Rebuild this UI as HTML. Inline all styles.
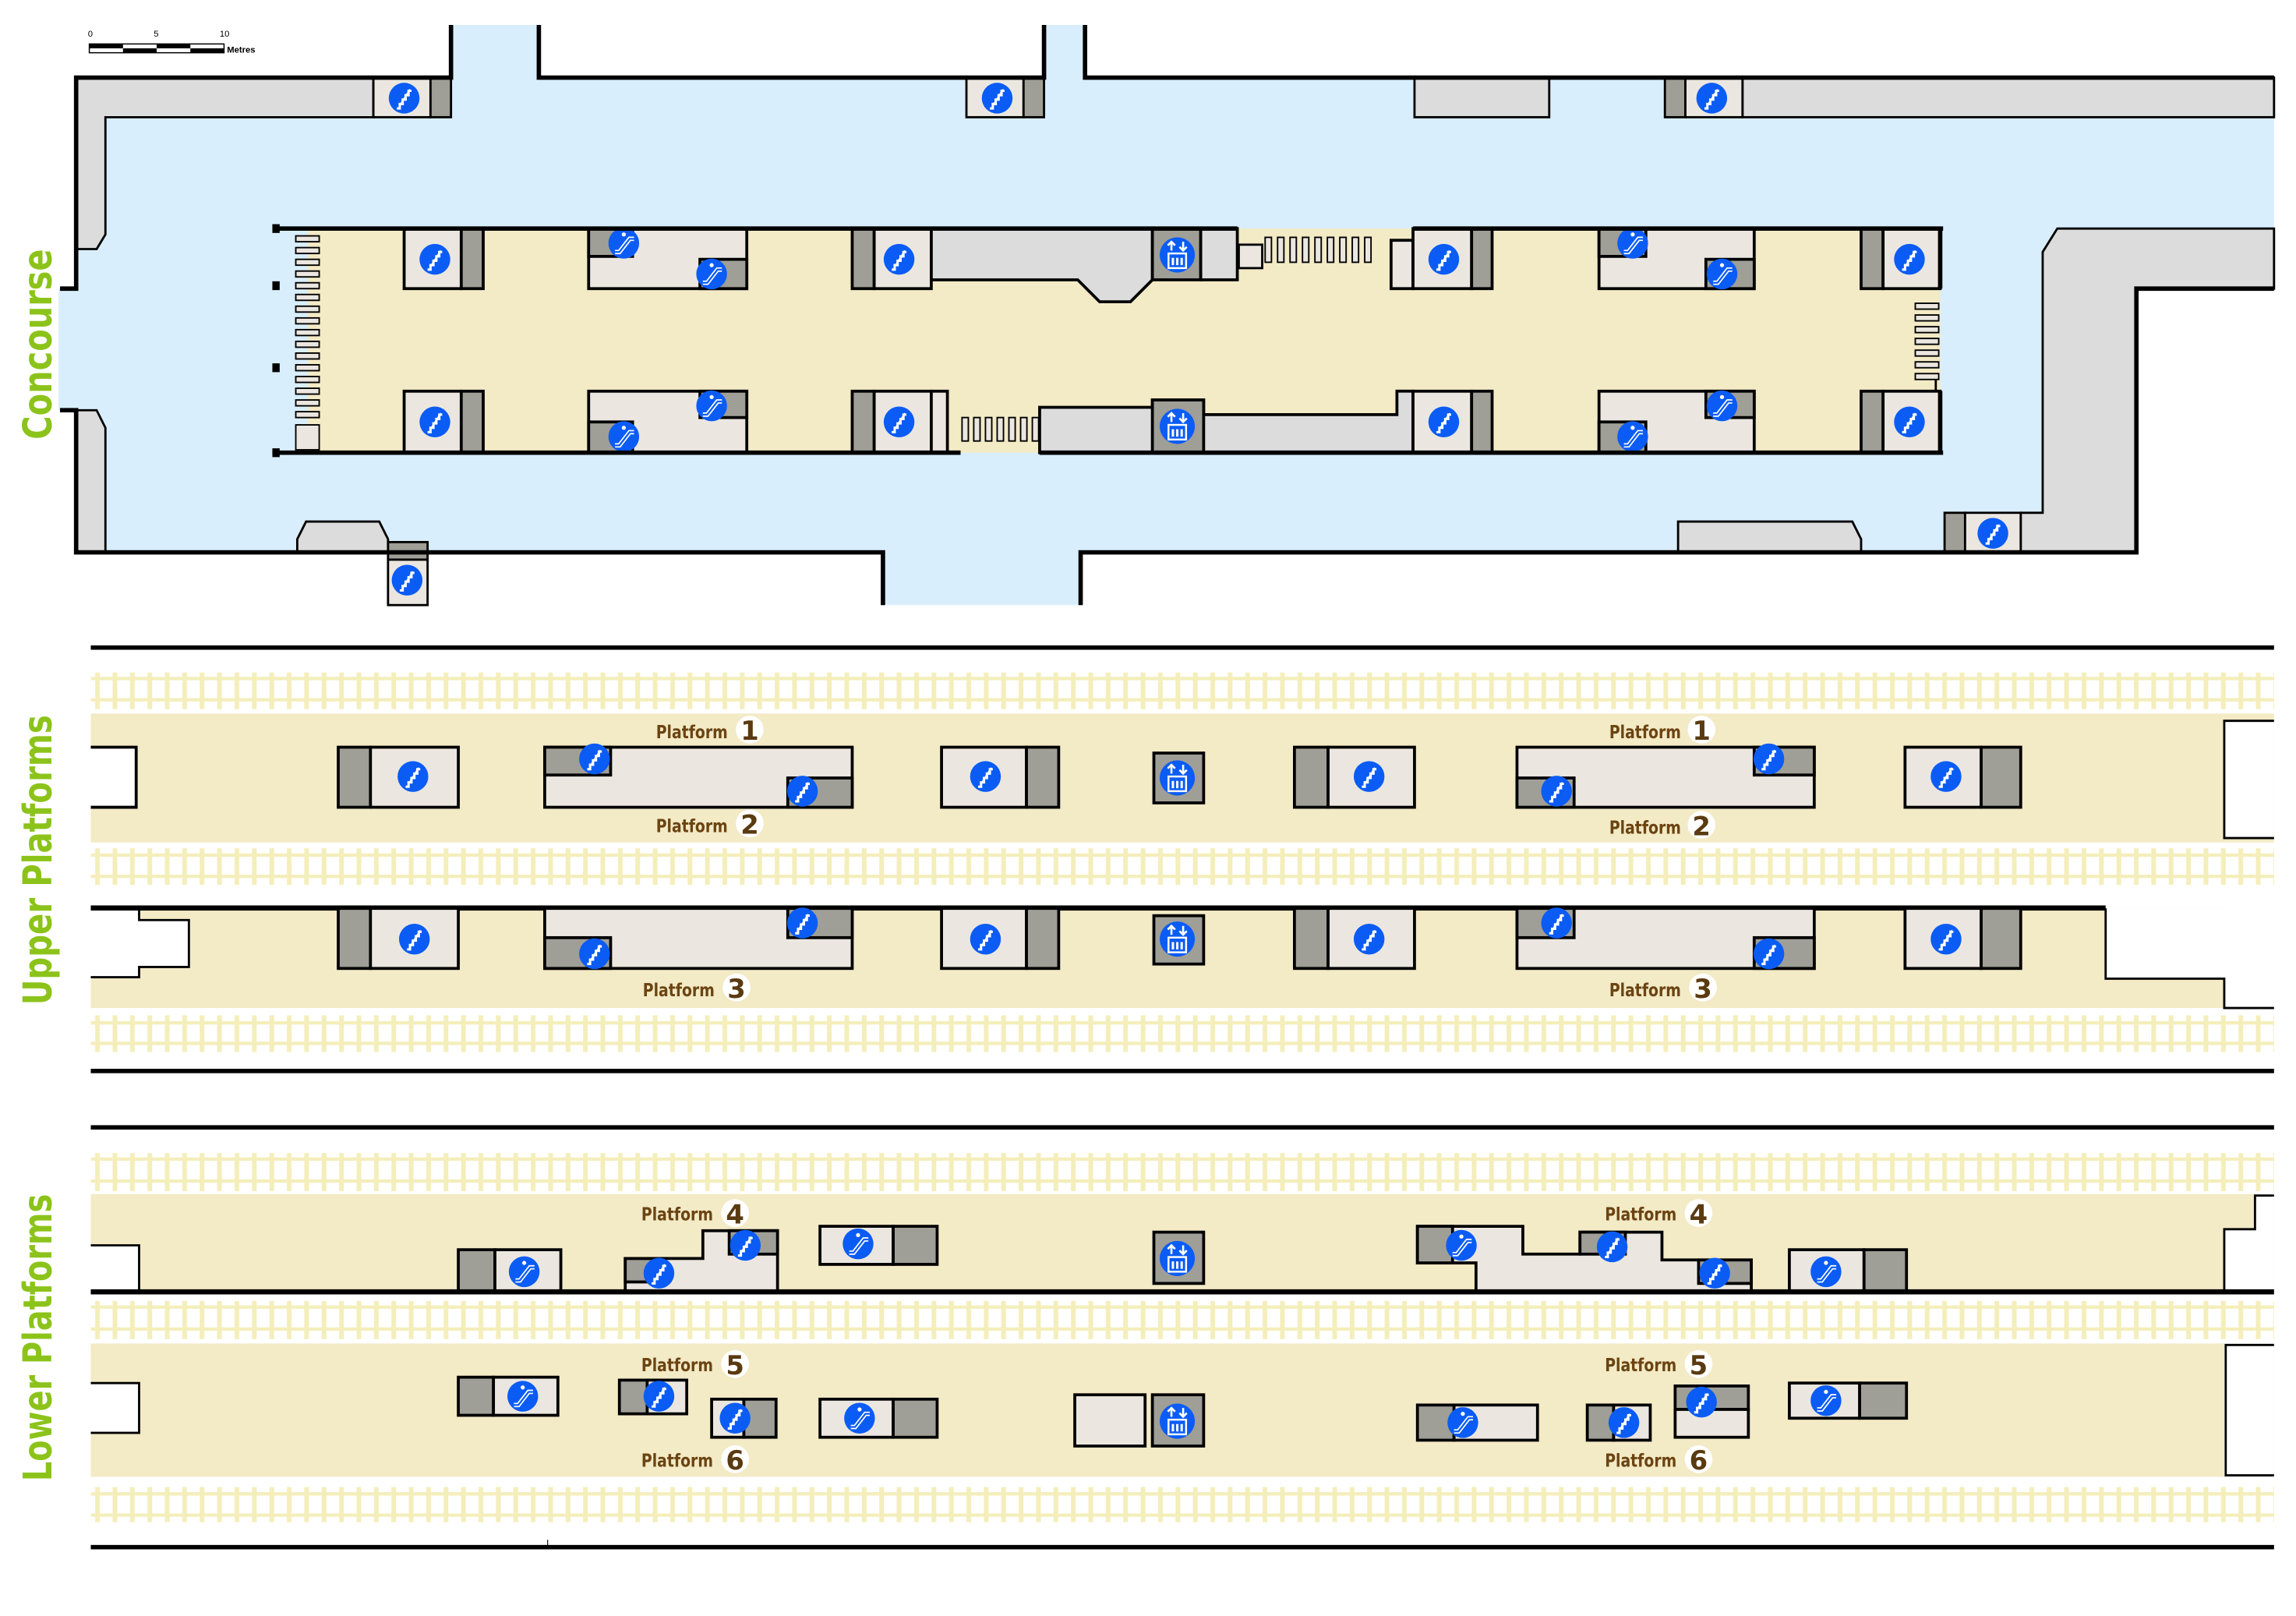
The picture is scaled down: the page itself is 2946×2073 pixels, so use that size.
<!DOCTYPE html>
<html><head><meta charset="utf-8"><style>
html,body{margin:0;padding:0;background:#fff}
svg{display:block}
.pl{font-family:"DejaVu Sans","Liberation Sans",sans-serif;font-weight:bold;font-size:12.5px;fill:#6b4412}
.pn{font-family:"DejaVu Sans","Liberation Sans",sans-serif;font-weight:bold;font-size:18px;fill:#5a3a10}
.side{font-family:"DejaVu Sans","Liberation Sans",sans-serif;font-weight:bold;font-size:27px;fill:#8cc31a}
</style></head><body>
<svg xmlns="http://www.w3.org/2000/svg" width="2946" height="2073" viewBox="0 0 1568 1103" preserveAspectRatio="none">
<defs>
<pattern id="sl" x="62" y="0" width="11.9" height="40" patternUnits="userSpaceOnUse"><rect x="3" y="0" width="3.2" height="40" fill="#f4eebb"/></pattern>
<g id="st"><circle r="10.5" fill="#0b5cf5"/><polyline points="-5,7 -3,7 -3,4 -1,4 -1,1 1,1 1,-2 3,-2 3,-5 5,-5" fill="none" stroke="#fff" stroke-width="1.6"/><line x1="-3" y1="5" x2="4" y2="-6" stroke="#fff" stroke-width="1"/></g>
<g id="es"><circle r="10.5" fill="#0b5cf5"/><path d="M-6,6 L-3,6 L4,-3 L7,-3" fill="none" stroke="#fff" stroke-width="3"/><path d="M-6,6 L-3,6 L4,-3 L7,-3" fill="none" stroke="#0b5cf5" stroke-width="1.2"/><circle cx="0" cy="-6" r="1.4" fill="#fff"/></g>
<g id="lf"><circle r="12" fill="#0b5cf5"/><path d="M-4,-3 v-6 M-6.5,-6.5 l2.5,-2.5 l2.5,2.5 M4,-9 v6 M1.5,-5.5 l2.5,2.5 l2.5,-2.5" stroke="#fff" stroke-width="1.4" fill="none"/><rect x="-6" y="-1" width="12" height="10" fill="none" stroke="#fff" stroke-width="1.3"/><path d="M-3,2 v5 M0,2 v5 M3,2 v5" stroke="#fff" stroke-width="1.6"/></g>
</defs>

<!-- ===== CONCOURSE ===== -->
<rect x="52" y="53" width="1501" height="324" fill="#d9eefc"/>
<rect x="40" y="197" width="14" height="83" fill="#d9eefc"/>
<rect x="308" y="17" width="60" height="38" fill="#d9eefc"/>
<rect x="713" y="17" width="28" height="38" fill="#d9eefc"/>
<rect x="603" y="375" width="135" height="38" fill="#d9eefc"/>
<rect x="1459" y="197" width="109" height="182" fill="#fff"/>
<polygon points="52,53 255,53 255,80 72,80 72,160 66,170 52,170" fill="#dcdcdc" stroke="#000" stroke-width="1.5"/>
<polygon points="52,280 66,280 72,292 72,377 52,377" fill="#dcdcdc" stroke="#000" stroke-width="1.5"/>
<polygon points="1395,172 1405,156 1553,156 1553,197 1459,197 1459,377 1380,377 1380,350 1395,350" fill="#dcdcdc" stroke="#000" stroke-width="1.5"/>
<rect x="966" y="53" width="92" height="27" fill="#dcdcdc" stroke="#000" stroke-width="1.5"/>
<rect x="1190" y="53" width="363" height="27" fill="#dcdcdc" stroke="#000" stroke-width="1.5"/>
<polygon points="203,377 203,368 209,356 259,356 265,368 265,377" fill="#dcdcdc" stroke="#000" stroke-width="1.5"/>
<polygon points="1146,377 1146,356 1265,356 1271,368 1271,377" fill="#dcdcdc" stroke="#000" stroke-width="1.5"/>
<rect x="255" y="53" width="39" height="27" fill="#ebe7e0" stroke="#000" stroke-width="1.5"/><rect x="294" y="53" width="14" height="27" fill="#9f9f97" stroke="#000" stroke-width="1.5"/><use href="#st" x="276" y="67"/>
<rect x="660" y="53" width="39" height="27" fill="#ebe7e0" stroke="#000" stroke-width="1.5"/><rect x="699" y="53" width="14" height="27" fill="#9f9f97" stroke="#000" stroke-width="1.5"/><use href="#st" x="681" y="67"/>
<rect x="1137" y="53" width="14" height="27" fill="#9f9f97" stroke="#000" stroke-width="1.5"/><rect x="1151" y="53" width="39" height="27" fill="#ebe7e0" stroke="#000" stroke-width="1.5"/><use href="#st" x="1169" y="67"/>
<rect x="265" y="370" width="27" height="12" fill="#9f9f97" stroke="#000" stroke-width="1.5"/><rect x="265" y="382" width="27" height="31" fill="#ebe7e0" stroke="#000" stroke-width="1.5"/><use href="#st" x="278" y="396"/>
<rect x="1328" y="350" width="14" height="27" fill="#9f9f97" stroke="#000" stroke-width="1.5"/><rect x="1342" y="350" width="38" height="27" fill="#ebe7e0" stroke="#000" stroke-width="1.5"/><use href="#st" x="1361" y="364"/>
<g fill="none" stroke="#000" stroke-width="3">
<polyline points="308,17 308,53 52,53 52,197 41,197"/>
<polyline points="41,280 52,280 52,377 603,377 603,413"/>
<polyline points="368,17 368,53 713,53 713,17"/>
<polyline points="741,17 741,53 1553,53"/>
<polyline points="738,413 738,377 1459,377 1459,197 1553,197"/>
</g>

<rect x="210" y="156" width="1100" height="153" fill="#f3eac6"/>
<rect x="1300" y="197" width="25" height="70" fill="#f3eac6"/>
<rect x="276" y="156" width="39" height="41" fill="#ebe7e0" stroke="#000" stroke-width="2"/><rect x="315" y="156" width="15" height="41" fill="#9f9f97" stroke="#000" stroke-width="2"/><use href="#st" x="297" y="177"/>
<rect x="402" y="156" width="108" height="41" fill="#ebe7e0" stroke="#000" stroke-width="2"/><rect x="402" y="156" width="30" height="19" fill="#9f9f97" stroke="#000" stroke-width="2"/><rect x="478" y="177" width="32" height="20" fill="#9f9f97" stroke="#000" stroke-width="2"/><use href="#es" x="426" y="166"/><use href="#es" x="486" y="187"/>
<rect x="582" y="156" width="15" height="41" fill="#9f9f97" stroke="#000" stroke-width="2"/><rect x="597" y="156" width="39" height="41" fill="#ebe7e0" stroke="#000" stroke-width="2"/><use href="#st" x="614" y="177"/>
<polygon points="636,156 787,156 787,191 772,206 751,206 736,191 636,191" fill="#dcdcdc" stroke="#000" stroke-width="2"/>
<rect x="787" y="156" width="33" height="35" fill="#9f9f97" stroke="#000" stroke-width="2"/><rect x="820" y="156" width="25" height="35" fill="#dcdcdc" stroke="#000" stroke-width="2"/><use href="#lf" x="804" y="174"/>
<rect x="846" y="167" width="16" height="16" fill="#ebe7e0" stroke="#000" stroke-width="1.5"/>
<g fill="#ebe7e0" stroke="#000" stroke-width="1"><rect x="864" y="162" width="4.3" height="17"/><rect x="872.5" y="162" width="4.3" height="17"/><rect x="881" y="162" width="4.3" height="17"/><rect x="889.5" y="162" width="4.3" height="17"/><rect x="898" y="162" width="4.3" height="17"/><rect x="906.5" y="162" width="4.3" height="17"/><rect x="915" y="162" width="4.3" height="17"/><rect x="923.5" y="162" width="4.3" height="17"/><rect x="932" y="162" width="4.3" height="17"/></g>
<rect x="950" y="164" width="15" height="33" fill="#ebe7e0" stroke="#000" stroke-width="2"/>
<rect x="965" y="156" width="40" height="41" fill="#ebe7e0" stroke="#000" stroke-width="2"/><rect x="1005" y="156" width="14" height="41" fill="#9f9f97" stroke="#000" stroke-width="2"/><use href="#st" x="986" y="177"/>
<rect x="1092" y="156" width="106" height="41" fill="#ebe7e0" stroke="#000" stroke-width="2"/><rect x="1092" y="156" width="32" height="19" fill="#9f9f97" stroke="#000" stroke-width="2"/><rect x="1165" y="177" width="33" height="20" fill="#9f9f97" stroke="#000" stroke-width="2"/><use href="#es" x="1115" y="166"/><use href="#es" x="1176" y="187"/>
<rect x="1271" y="156" width="15" height="41" fill="#9f9f97" stroke="#000" stroke-width="2"/><rect x="1286" y="156" width="39" height="41" fill="#ebe7e0" stroke="#000" stroke-width="2"/><use href="#st" x="1304" y="177"/>
<rect x="276" y="267" width="39" height="42" fill="#ebe7e0" stroke="#000" stroke-width="2"/><rect x="315" y="267" width="15" height="42" fill="#9f9f97" stroke="#000" stroke-width="2"/><use href="#st" x="297" y="288"/>
<rect x="402" y="267" width="108" height="42" fill="#ebe7e0" stroke="#000" stroke-width="2"/><rect x="478" y="267" width="32" height="18" fill="#9f9f97" stroke="#000" stroke-width="2"/><rect x="402" y="288" width="30" height="21" fill="#9f9f97" stroke="#000" stroke-width="2"/><use href="#es" x="486" y="277"/><use href="#es" x="426" y="298"/>
<rect x="582" y="267" width="15" height="42" fill="#9f9f97" stroke="#000" stroke-width="2"/><rect x="597" y="267" width="39" height="42" fill="#ebe7e0" stroke="#000" stroke-width="2"/><rect x="636" y="267" width="11" height="42" fill="#ebe7e0" stroke="#000" stroke-width="2"/><use href="#st" x="614" y="288"/>
<g fill="#ebe7e0" stroke="#000" stroke-width="1"><rect x="657" y="285" width="4.3" height="16"/><rect x="665" y="285" width="4.3" height="16"/><rect x="673" y="285" width="4.3" height="16"/><rect x="681" y="285" width="4.3" height="16"/><rect x="689" y="285" width="4.3" height="16"/><rect x="697" y="285" width="4.3" height="16"/><rect x="705" y="285" width="4.3" height="16"/></g>
<polygon points="710,278 787,278 787,273 822,273 822,283 954,283 954,267 965,267 965,309 710,309" fill="#dcdcdc" stroke="#000" stroke-width="2"/>
<rect x="787" y="273" width="35" height="36" fill="#9f9f97" stroke="#000" stroke-width="2"/><use href="#lf" x="804" y="291"/>
<rect x="965" y="267" width="40" height="42" fill="#ebe7e0" stroke="#000" stroke-width="2"/><rect x="1005" y="267" width="14" height="42" fill="#9f9f97" stroke="#000" stroke-width="2"/><use href="#st" x="986" y="288"/>
<rect x="1092" y="267" width="106" height="42" fill="#ebe7e0" stroke="#000" stroke-width="2"/><rect x="1165" y="267" width="33" height="18" fill="#9f9f97" stroke="#000" stroke-width="2"/><rect x="1092" y="288" width="32" height="21" fill="#9f9f97" stroke="#000" stroke-width="2"/><use href="#es" x="1176" y="277"/><use href="#es" x="1115" y="298"/>
<rect x="1271" y="267" width="15" height="42" fill="#9f9f97" stroke="#000" stroke-width="2"/><rect x="1286" y="267" width="39" height="42" fill="#ebe7e0" stroke="#000" stroke-width="2"/><use href="#st" x="1304" y="288"/>
<g stroke="#000" stroke-width="3" fill="none">
<line x1="188" y1="156" x2="845" y2="156"/><line x1="965" y1="156" x2="1327" y2="156"/>
<line x1="188" y1="309" x2="656" y2="309"/><line x1="710" y1="309" x2="1327" y2="309"/>
<line x1="1325" y1="156" x2="1325" y2="197"/><line x1="1325" y1="267" x2="1325" y2="309"/>
</g>
<line x1="1322" y1="257" x2="1322" y2="267" stroke="#000" stroke-width="1.5"/>
<g fill="#000"><rect x="186" y="153" width="5" height="6"/><rect x="186" y="192" width="5" height="6"/><rect x="186" y="248" width="5" height="6"/><rect x="186" y="306" width="5" height="6"/></g>
<g fill="#ebe7e0" stroke="#000" stroke-width="1">
<rect x="202" y="161" width="16" height="4"/><rect x="202" y="169" width="16" height="4"/><rect x="202" y="177" width="16" height="4"/><rect x="202" y="185" width="16" height="4"/><rect x="202" y="193" width="16" height="4"/><rect x="202" y="201" width="16" height="4"/><rect x="202" y="209" width="16" height="4"/><rect x="202" y="217" width="16" height="4"/><rect x="202" y="225" width="16" height="4"/><rect x="202" y="233" width="16" height="4"/><rect x="202" y="241" width="16" height="4"/><rect x="202" y="249" width="16" height="4"/><rect x="202" y="257" width="16" height="4"/><rect x="202" y="265" width="16" height="4"/><rect x="202" y="273" width="16" height="4"/><rect x="202" y="281" width="16" height="4"/>
<rect x="202" y="290" width="16" height="17"/>
<rect x="1308" y="207" width="16" height="4"/><rect x="1308" y="215" width="16" height="4"/><rect x="1308" y="223" width="16" height="4"/><rect x="1308" y="231" width="16" height="4"/><rect x="1308" y="239" width="16" height="4"/><rect x="1308" y="247" width="16" height="4"/><rect x="1308" y="255" width="16" height="4"/>
</g>
<g>
<rect x="61" y="30" width="92" height="6" fill="#fff" stroke="#000" stroke-width="0.8"/>
<rect x="61" y="30" width="23" height="3" fill="#000"/><rect x="107" y="30" width="23" height="3" fill="#000"/>
<rect x="84" y="33" width="23" height="3" fill="#000"/><rect x="130" y="33" width="23" height="3" fill="#000"/>
<text x="60" y="25" font-family="Liberation Sans,sans-serif" font-size="6">0</text>
<text x="105" y="25" font-family="Liberation Sans,sans-serif" font-size="6">5</text>
<text x="150" y="25" font-family="Liberation Sans,sans-serif" font-size="6">10</text>
<text x="155" y="36" font-family="Liberation Sans,sans-serif" font-size="6" font-weight="bold">Metres</text>
</g>

<!-- ===== TRACKS ===== -->
<g fill="url(#sl)">
<rect x="62" y="459" width="1491" height="25"/><rect x="62" y="579" width="1491" height="25"/><rect x="62" y="693" width="1491" height="25"/>
<rect x="62" y="787" width="1491" height="26"/><rect x="62" y="888" width="1491" height="26"/><rect x="62" y="1015" width="1491" height="24"/>
</g>
<g fill="#f4eebb">
<rect x="62" y="462" width="1491" height="2.3"/><rect x="62" y="476.5" width="1491" height="2.3"/>
<rect x="62" y="582.5" width="1491" height="2.3"/><rect x="62" y="597" width="1491" height="2.3"/>
<rect x="62" y="697" width="1491" height="2.3"/><rect x="62" y="711" width="1491" height="2.3"/>
<rect x="62" y="790" width="1491" height="2.3"/><rect x="62" y="805" width="1491" height="2.3"/>
<rect x="62" y="891" width="1491" height="2.3"/><rect x="62" y="906" width="1491" height="2.3"/>
<rect x="62" y="1018.5" width="1491" height="2.3"/><rect x="62" y="1033" width="1491" height="2.3"/>
</g>

<!-- ===== UPPER PLATFORMS ===== -->
<rect x="62" y="440.5" width="1491" height="3" fill="#000"/>
<rect x="62" y="487" width="1491" height="88" fill="#f3eac6"/>
<rect x="62" y="510" width="31" height="41" fill="#fff"/><polyline points="62,510 93,510 93,551 62,551" fill="none" stroke="#000" stroke-width="2"/>
<rect x="1519" y="492" width="34" height="80" fill="#fff"/><polyline points="1553,492 1519,492 1519,572 1553,572" fill="none" stroke="#000" stroke-width="1.5"/>
<rect x="62" y="620" width="1457" height="68" fill="#f3eac6"/>
<polygon points="62,620 95,620 95,628 129,628 129,660 95,660 95,667 62,667" fill="#fff"/>
<polyline points="95,620 95,628 129,628 129,660 95,660 95,667 62,667" fill="none" stroke="#000" stroke-width="1.5"/>
<polygon points="1438,620 1553,620 1553,688 1519,688 1519,668 1438,668" fill="#fff"/>
<polyline points="1438,620 1438,668 1519,668 1519,688 1553,688" fill="none" stroke="#000" stroke-width="1.5"/>
<rect x="62" y="618" width="1376" height="3.5" fill="#000"/>
<rect x="62" y="729.5" width="1491" height="3" fill="#000"/>

<g stroke="#000" stroke-width="2">
<rect x="231" y="510" width="22" height="41" fill="#9f9f97"/><rect x="253" y="510" width="60" height="41" fill="#ebe7e0"/>
<rect x="372" y="510" width="210" height="41" fill="#ebe7e0"/><rect x="372" y="510" width="45" height="19" fill="#9f9f97"/><rect x="538" y="531" width="44" height="20" fill="#9f9f97"/>
<rect x="643" y="510" width="58" height="41" fill="#ebe7e0"/><rect x="701" y="510" width="22" height="41" fill="#9f9f97"/>
<rect x="788" y="514" width="34" height="34" fill="#9f9f97"/>
<rect x="884" y="510" width="23" height="41" fill="#9f9f97"/><rect x="907" y="510" width="59" height="41" fill="#ebe7e0"/>
<rect x="1036" y="510" width="203" height="41" fill="#ebe7e0"/><rect x="1198" y="510" width="41" height="19" fill="#9f9f97"/><rect x="1036" y="531" width="39" height="20" fill="#9f9f97"/>
<rect x="1301" y="510" width="52" height="41" fill="#ebe7e0"/><rect x="1353" y="510" width="27" height="41" fill="#9f9f97"/>
<rect x="231" y="620" width="22" height="41" fill="#9f9f97"/><rect x="253" y="620" width="60" height="41" fill="#ebe7e0"/>
<rect x="372" y="620" width="210" height="41" fill="#ebe7e0"/><rect x="538" y="620" width="44" height="20" fill="#9f9f97"/><rect x="372" y="640" width="45" height="21" fill="#9f9f97"/>
<rect x="643" y="620" width="58" height="41" fill="#ebe7e0"/><rect x="701" y="620" width="22" height="41" fill="#9f9f97"/>
<rect x="788" y="625" width="34" height="33" fill="#9f9f97"/>
<rect x="884" y="620" width="23" height="41" fill="#9f9f97"/><rect x="907" y="620" width="59" height="41" fill="#ebe7e0"/>
<rect x="1036" y="620" width="203" height="41" fill="#ebe7e0"/><rect x="1036" y="620" width="39" height="20" fill="#9f9f97"/><rect x="1198" y="640" width="41" height="21" fill="#9f9f97"/>
<rect x="1301" y="620" width="52" height="41" fill="#ebe7e0"/><rect x="1353" y="620" width="27" height="41" fill="#9f9f97"/>
</g>
<use href="#st" x="282" y="530"/><use href="#st" x="406" y="518"/><use href="#st" x="548" y="540"/><use href="#st" x="673" y="530"/><use href="#lf" x="804" y="531"/><use href="#st" x="935" y="530"/><use href="#st" x="1208" y="518"/><use href="#st" x="1063" y="540"/><use href="#st" x="1329" y="530"/>
<use href="#st" x="283" y="641"/><use href="#st" x="548" y="630"/><use href="#st" x="406" y="651"/><use href="#st" x="673" y="641"/><use href="#lf" x="804" y="641"/><use href="#st" x="935" y="641"/><use href="#st" x="1063" y="630"/><use href="#st" x="1208" y="651"/><use href="#st" x="1329" y="641"/>

<g>
<text class="pl" x="448" y="504" textLength="49" lengthAdjust="spacingAndGlyphs">Platform</text><circle cx="512" cy="498" r="9.5" fill="#fff"/><text class="pn" x="512" y="505" text-anchor="middle">1</text>
<text class="pl" x="448" y="568" textLength="49" lengthAdjust="spacingAndGlyphs">Platform</text><circle cx="512" cy="562" r="9.5" fill="#fff"/><text class="pn" x="512" y="569" text-anchor="middle">2</text>
<text class="pl" x="1099" y="504" textLength="49" lengthAdjust="spacingAndGlyphs">Platform</text><circle cx="1162" cy="498" r="9.5" fill="#fff"/><text class="pn" x="1162" y="505" text-anchor="middle">1</text>
<text class="pl" x="1099" y="569" textLength="49" lengthAdjust="spacingAndGlyphs">Platform</text><circle cx="1162" cy="563" r="9.5" fill="#fff"/><text class="pn" x="1162" y="570" text-anchor="middle">2</text>
<text class="pl" x="439" y="680" textLength="49" lengthAdjust="spacingAndGlyphs">Platform</text><circle cx="503" cy="674" r="9.5" fill="#fff"/><text class="pn" x="503" y="681" text-anchor="middle">3</text>
<text class="pl" x="1099" y="680" textLength="49" lengthAdjust="spacingAndGlyphs">Platform</text><circle cx="1163" cy="674" r="9.5" fill="#fff"/><text class="pn" x="1163" y="681" text-anchor="middle">3</text>
</g>

<!-- ===== LOWER PLATFORMS ===== -->
<rect x="62" y="768" width="1491" height="3" fill="#000"/>
<rect x="62" y="815" width="1491" height="67" fill="#f3eac6"/>
<rect x="62" y="850" width="33" height="32" fill="#fff"/><polyline points="62,850 95,850 95,882" fill="none" stroke="#000" stroke-width="1.5"/>
<polygon points="1540,815 1553,815 1553,882 1519,882 1519,839 1540,839" fill="#fff"/>
<polyline points="1553,816 1540,816 1540,839 1519,839 1519,882" fill="none" stroke="#000" stroke-width="1.5"/>
<rect x="62" y="917" width="1491" height="91" fill="#f3eac6"/>
<rect x="62" y="944" width="33" height="34" fill="#fff"/><polyline points="62,944 95,944 95,978 62,978" fill="none" stroke="#000" stroke-width="1.5"/>
<rect x="1519" y="917" width="34" height="91" fill="#fff"/><polyline points="1553,918 1520,918 1520,1007 1553,1007" fill="none" stroke="#000" stroke-width="1.5"/>
<rect x="62" y="1054.5" width="1491" height="3" fill="#000"/>
<line x1="374" y1="1051" x2="374" y2="1055" stroke="#000" stroke-width="0.6"/>

<g stroke="#000" stroke-width="2">
<rect x="313" y="853" width="25" height="29" fill="#9f9f97"/><rect x="338" y="853" width="45" height="29" fill="#ebe7e0"/>
<polygon points="427,859 480,859 480,840 531,840 531,882 427,882" fill="#ebe7e0"/>
<rect x="427" y="859" width="21" height="16" fill="#9f9f97"/><rect x="498" y="840" width="33" height="16" fill="#9f9f97"/>
<rect x="560" y="837" width="50" height="26" fill="#ebe7e0"/><rect x="610" y="837" width="30" height="26" fill="#9f9f97"/>
<rect x="788" y="841" width="34" height="35" fill="#9f9f97"/>
<polygon points="968,837 1040,837 1040,856 1079,856 1079,841 1135,841 1135,860 1196,860 1196,882 1008,882 1008,862 968,862" fill="#ebe7e0"/>
<rect x="968" y="837" width="24" height="25" fill="#9f9f97"/><rect x="1079" y="841" width="31" height="15" fill="#9f9f97"/><rect x="1160" y="860" width="36" height="16" fill="#9f9f97"/>
<rect x="1222" y="853" width="51" height="29" fill="#ebe7e0"/><rect x="1273" y="853" width="29" height="29" fill="#9f9f97"/>
<rect x="313" y="940" width="24" height="26" fill="#9f9f97"/><rect x="337" y="940" width="44" height="26" fill="#ebe7e0"/>
<rect x="423" y="942" width="19" height="23" fill="#9f9f97"/><rect x="442" y="942" width="27" height="23" fill="#ebe7e0"/>
<rect x="486" y="955" width="22" height="26" fill="#ebe7e0"/><rect x="508" y="955" width="22" height="26" fill="#9f9f97"/>
<rect x="560" y="955" width="50" height="26" fill="#ebe7e0"/><rect x="610" y="955" width="30" height="26" fill="#9f9f97"/>
<rect x="734" y="952" width="48" height="35" fill="#ebe7e0"/>
<rect x="787" y="952" width="35" height="35" fill="#9f9f97"/>
<rect x="968" y="959" width="25" height="24" fill="#9f9f97"/><rect x="993" y="959" width="57" height="24" fill="#ebe7e0"/>
<rect x="1084" y="959" width="18" height="24" fill="#9f9f97"/><rect x="1102" y="959" width="25" height="24" fill="#ebe7e0"/>
<rect x="1144" y="946" width="50" height="16" fill="#9f9f97"/><rect x="1144" y="962" width="50" height="19" fill="#ebe7e0"/>
<rect x="1222" y="944" width="48" height="24" fill="#ebe7e0"/><rect x="1270" y="944" width="32" height="24" fill="#9f9f97"/>
</g>
<rect x="62" y="880" width="1491" height="3.5" fill="#000"/>
<use href="#es" x="358" y="868"/><use href="#st" x="450" y="869"/><use href="#st" x="509" y="850"/><use href="#es" x="586" y="849"/><use href="#lf" x="804" y="859"/><use href="#es" x="998" y="850"/><use href="#st" x="1101" y="851"/><use href="#st" x="1171" y="869"/><use href="#es" x="1247" y="868"/>
<use href="#es" x="357" y="953"/><use href="#st" x="450" y="953"/><use href="#st" x="502" y="968"/><use href="#es" x="587" y="968"/><use href="#lf" x="804" y="970"/><use href="#es" x="999" y="971"/><use href="#st" x="1109" y="971"/><use href="#st" x="1162" y="957"/><use href="#es" x="1247" y="956"/>

<g>
<text class="pl" x="438" y="833" textLength="49" lengthAdjust="spacingAndGlyphs">Platform</text><circle cx="502" cy="828" r="9.5" fill="#fff"/><text class="pn" x="502" y="835" text-anchor="middle">4</text>
<text class="pl" x="1096" y="833" textLength="49" lengthAdjust="spacingAndGlyphs">Platform</text><circle cx="1160" cy="828" r="9.5" fill="#fff"/><text class="pn" x="1160" y="835" text-anchor="middle">4</text>
<text class="pl" x="438" y="936" textLength="49" lengthAdjust="spacingAndGlyphs">Platform</text><circle cx="502" cy="931" r="9.5" fill="#fff"/><text class="pn" x="502" y="938" text-anchor="middle">5</text>
<text class="pl" x="1096" y="936" textLength="49" lengthAdjust="spacingAndGlyphs">Platform</text><circle cx="1160" cy="931" r="9.5" fill="#fff"/><text class="pn" x="1160" y="938" text-anchor="middle">5</text>
<text class="pl" x="438" y="1001" textLength="49" lengthAdjust="spacingAndGlyphs">Platform</text><circle cx="502" cy="996" r="9.5" fill="#fff"/><text class="pn" x="502" y="1003" text-anchor="middle">6</text>
<text class="pl" x="1096" y="1001" textLength="49" lengthAdjust="spacingAndGlyphs">Platform</text><circle cx="1160" cy="996" r="9.5" fill="#fff"/><text class="pn" x="1160" y="1003" text-anchor="middle">6</text>
</g>

<text class="side" transform="translate(35,300) rotate(-90)" textLength="130" lengthAdjust="spacingAndGlyphs">Concourse</text>
<text class="side" transform="translate(35,686) rotate(-90)" textLength="198" lengthAdjust="spacingAndGlyphs">Upper Platforms</text>
<text class="side" transform="translate(35,1011) rotate(-90)" textLength="196" lengthAdjust="spacingAndGlyphs">Lower Platforms</text>
</svg>
</body></html>
